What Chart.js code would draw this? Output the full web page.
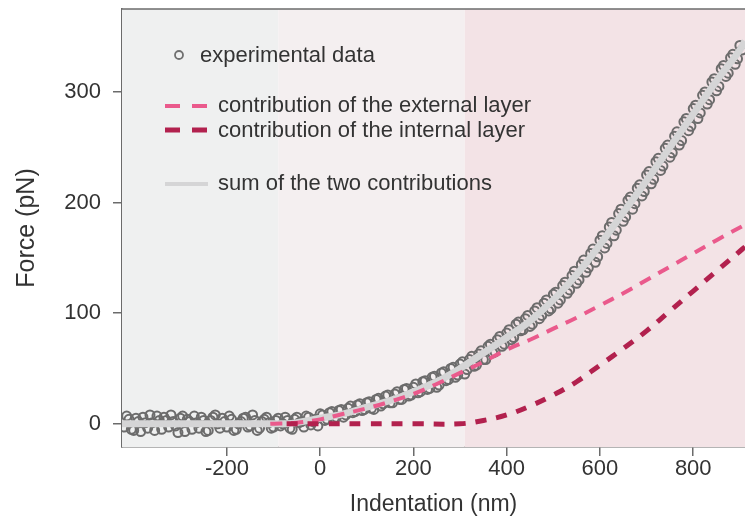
<!DOCTYPE html>
<html>
<head>
<meta charset="utf-8">
<script src="https://cdn.jsdelivr.net/npm/chart.js@4/dist/chart.umd.min.js"></script>
<style>
  html, body { margin: 0; padding: 0; background: #fff; }
  #wrap { width: 745px; height: 522px; }
</style>
</head>
<body>
<div id="wrap"><canvas id="forceChart"></canvas></div>
<script>
// indentation (nm) / force (pN) of the measured curve
var expX = [-420,-410,-400,-390,-380,-370,-360,-350,-340,-330,-320,-310,-300,-290,-280,-270,-260,-250,-240,-230,
  -220,-210,-200,-190,-180,-170,-160,-150,-140,-130,-120,-110,-100,-90,-80,-70,-60,-50,-40,-30,
  -20,-10,0,10,20,30,40,50,60,70,80,90,100,110,120,130,140,150,160,170,
  180,190,200,210,220,230,240,250,260,270,280,290,300,310,320,330,340,350,360,370,
  380,390,400,410,420,430,440,450,460,470,480,490,500,510,520,530,540,550,560,570,
  580,590,600,610,620,630,640,650,660,670,680,690,700,710,720,730,740,750,760,770,
  780,790,800,810,820,830,840,850,860,870,880,890,900,905,
  -415,-405,-395,-385,-375,-365,-355,-345,-335,-325,-315,-305,-295,-285,-275,-265,-255,-245,-235,-225,
  -215,-205,-195,-185,-175,-165,-155,-145,-135,-125,-115,-105,-95,-85,-75,-65,-55,-45,-35,-25,-15,-5,
  5,15,25,35,45,55,65,75,85,95,105,115,125,135,145,155,165,175,185,195,
  205,215,225,235,245,255,265,275,285,295,305,315,325,335,345,355,365,375,385,395,
  405,415,425,435,445,455,465,475,485,495,505,515,525,535,545,555,565,575,585,595,
  605,615,625,635,645,655,665,675,685,695,705,715,725,735,745,755,765,775,785,795,
  805,815,825,835,845,855,865,875,885,895];
var expY = [-3,4,-6,2,6,-4,1,7,-5,3,8,-2,5,-7,2,7,-4,3,-6,6,
  0,5,-3,4,-5,2,6,-2,3,-4,4,1,-3,5,0,3,-5,6,2,7,
  -1,4,9,3,10,5,12,6,14,10,17,12,19,14,22,16,25,19,27,22,
  31,25,33,28,38,31,42,33,46,39,50,42,54,45,58,52,63,58,70,64,
  76,70,82,76,90,84,95,88,102,95,109,102,117,109,125,118,134,127,144,137,
  154,146,166,159,178,170,190,183,202,194,213,206,225,217,237,229,249,241,260,252,
  273,265,285,276,297,289,309,301,321,314,331,325,342,338,
  7,-5,5,-7,1,8,-6,3,6,-3,2,-8,7,4,-5,1,6,-7,3,8,
  -4,2,7,-6,0,5,-3,8,-6,2,6,-4,3,-2,6,-4,4,1,-3,6,2,-2,
  8,4,11,6,13,8,16,11,18,13,20,13,23,18,26,19,29,22,32,26,
  36,29,39,32,43,35,47,40,51,44,56,49,61,53,66,58,72,65,79,72,
  85,78,92,85,98,90,105,98,112,104,119,112,128,121,138,130,148,141,158,151,
  170,163,182,175,194,187,205,199,216,210,228,221,240,233,252,245,264,256,276,269,
  288,281,300,293,312,305,324,317,334,330];

// fitted curves, sampled along the indentation axis
var fitX = [-425,-150,-100,-75,-50,0,50,100,150,200,250,300,350,400,450,500,550,600,650,700,750,800,850,900,911];
var sumY = [0,0,0,0,1,5,9,15,21,29,38,50,64,78,93,112,135,162,191,220,250,280,310,338,346];
var extX = [-107,-50,0,50,100,150,200,250,300,350,400,450,500,550,600,650,700,750,800,850,911];
var extY = [0,1,4,9,14,20,27,36,46,56,67,76,86,96,107,118,130,142,154,166,180];
var intX = [-72,0,100,200,300,350,400,450,500,550,600,650,700,750,800,850,900,911];
var intY = [0,0,0,0,0,3,8,16,26,38,53,68,84,102,120,138,156,160];

var xTickVals = [-200,0,200,400,600,800];
var yTickVals = [0,100,200,300];

// shaded regions: contact-free / external layer / internal layer
var bandEdges = [-425,-90,310,911];
var bandColors = ['#eff0f0','#f4eff0','#f3e3e6'];

var labels = ['experimental data','contribution of the external layer','contribution of the internal layer','sum of the two contributions'];

function pts(xs, ys) {
  return xs.map(function (x, i) { return {x: x, y: ys[i]}; });
}

var FONT = "'Liberation Sans', Arial, sans-serif";
var PINK = '#ea5a8c';
var CRIMSON = '#b2214e';
var SUMGRAY = '#d5d5d6';

var bands = {
  id: 'bands',
  beforeDatasetsDraw: function (chart) {
    var ctx = chart.ctx, a = chart.chartArea, xs = chart.scales.x;
    ctx.save();
    for (var i = 0; i < bandColors.length; i++) {
      var l = Math.max(a.left, xs.getPixelForValue(bandEdges[i]));
      var r = Math.min(a.right, xs.getPixelForValue(bandEdges[i + 1]));
      ctx.fillStyle = bandColors[i];
      ctx.fillRect(l, a.top, r - l, a.bottom - a.top);
    }
    ctx.restore();
  },
  afterDraw: function (chart) {
    // frame line along the top
    var ctx = chart.ctx, a = chart.chartArea;
    ctx.save();
    ctx.strokeStyle = '#6b6b6b';
    ctx.lineWidth = 1.5;
    ctx.beginPath();
    ctx.moveTo(a.left, a.top);
    ctx.lineTo(a.right, a.top);
    ctx.stroke();
    ctx.restore();
  }
};

var legendBox = {
  id: 'legendBox',
  afterDraw: function (chart) {
    var ctx = chart.ctx;
    ctx.save();
    ctx.font = '22px ' + FONT;
    ctx.fillStyle = '#333';
    ctx.textBaseline = 'middle';

    ctx.strokeStyle = '#707070';
    ctx.lineWidth = 1.8;
    ctx.beginPath();
    ctx.arc(179, 55, 4, 0, Math.PI * 2);
    ctx.stroke();
    ctx.fillText(labels[0], 200, 56);

    ctx.lineWidth = 4;
    ctx.strokeStyle = PINK;
    ctx.setLineDash([15, 12]);
    ctx.beginPath(); ctx.moveTo(165, 106); ctx.lineTo(208, 106); ctx.stroke();
    ctx.fillText(labels[1], 218, 106);

    ctx.lineWidth = 5;
    ctx.strokeStyle = CRIMSON;
    ctx.beginPath(); ctx.moveTo(165, 130); ctx.lineTo(208, 130); ctx.stroke();
    ctx.fillText(labels[2], 218, 131);

    ctx.setLineDash([]);
    ctx.lineWidth = 4;
    ctx.strokeStyle = SUMGRAY;
    ctx.beginPath(); ctx.moveTo(165, 184); ctx.lineTo(208, 184); ctx.stroke();
    ctx.fillText(labels[3], 218, 184);
    ctx.restore();
  }
};

new Chart(document.getElementById('forceChart'), {
  type: 'scatter',
  data: {
    datasets: [{
      label: labels[0],
      data: pts(expX, expY),
      showLine: false,
      pointRadius: 4.5,
      pointBorderWidth: 2,
      pointBorderColor: '#6c6c6c',
      pointBackgroundColor: 'rgba(0,0,0,0)',
      order: 4
    }, {
      label: labels[3],
      data: pts(fitX, sumY),
      showLine: true,
      borderColor: SUMGRAY,
      borderWidth: 7,
      pointRadius: 0,
      tension: 0.4,
      order: 3
    }, {
      label: labels[1],
      data: pts(extX, extY),
      showLine: true,
      borderColor: PINK,
      borderWidth: 4,
      borderDash: [12, 9],
      pointRadius: 0,
      tension: 0.4,
      order: 2
    }, {
      label: labels[2],
      data: pts(intX, intY),
      showLine: true,
      borderColor: CRIMSON,
      borderWidth: 5,
      borderDash: [11, 10],
      pointRadius: 0,
      tension: 0.4,
      order: 1
    }]
  },
  options: {
    responsive: true,
    maintainAspectRatio: false,
    animation: false,
    layout: { autoPadding: false, padding: { top: 9, right: 0, left: 0, bottom: 0 } },
    plugins: {
      legend: { display: false },
      tooltip: { enabled: false }
    },
    scales: {
      x: {
        type: 'linear',
        min: -425,
        max: 911,
        afterBuildTicks: function (s) { s.ticks = xTickVals.map(function (v) { return {value: v}; }); },
        afterFit: function (s) { s.height = 75; s.paddingLeft = 0; s.paddingRight = 0; },
        grid: { drawOnChartArea: false, tickLength: 9, color: '#6b6b6b', lineWidth: 1.5 },
        border: { color: '#6b6b6b', width: 1.5 },
        ticks: { color: '#333', font: { family: FONT, size: 22 }, padding: 0, maxRotation: 0 },
        title: { display: true, text: 'Indentation (nm)', color: '#333', font: { family: FONT, size: 23 }, padding: { top: 0, bottom: 4 } }
      },
      y: {
        type: 'linear',
        min: -21,
        max: 375,
        afterBuildTicks: function (s) { s.ticks = yTickVals.map(function (v) { return {value: v}; }); },
        afterFit: function (s) { s.width = 122; s.paddingTop = 0; s.paddingBottom = 0; },
        grid: { drawOnChartArea: false, tickLength: 9, color: '#6b6b6b', lineWidth: 1.5 },
        border: { color: '#6b6b6b', width: 1.5 },
        ticks: { color: '#333', font: { family: FONT, size: 22 }, padding: 12 },
        title: { display: true, text: 'Force (pN)', color: '#333', font: { family: FONT, size: 25 }, padding: { top: 12, bottom: 0 } }
      }
    }
  },
  plugins: [bands, legendBox]
});
</script>
</body>
</html>
